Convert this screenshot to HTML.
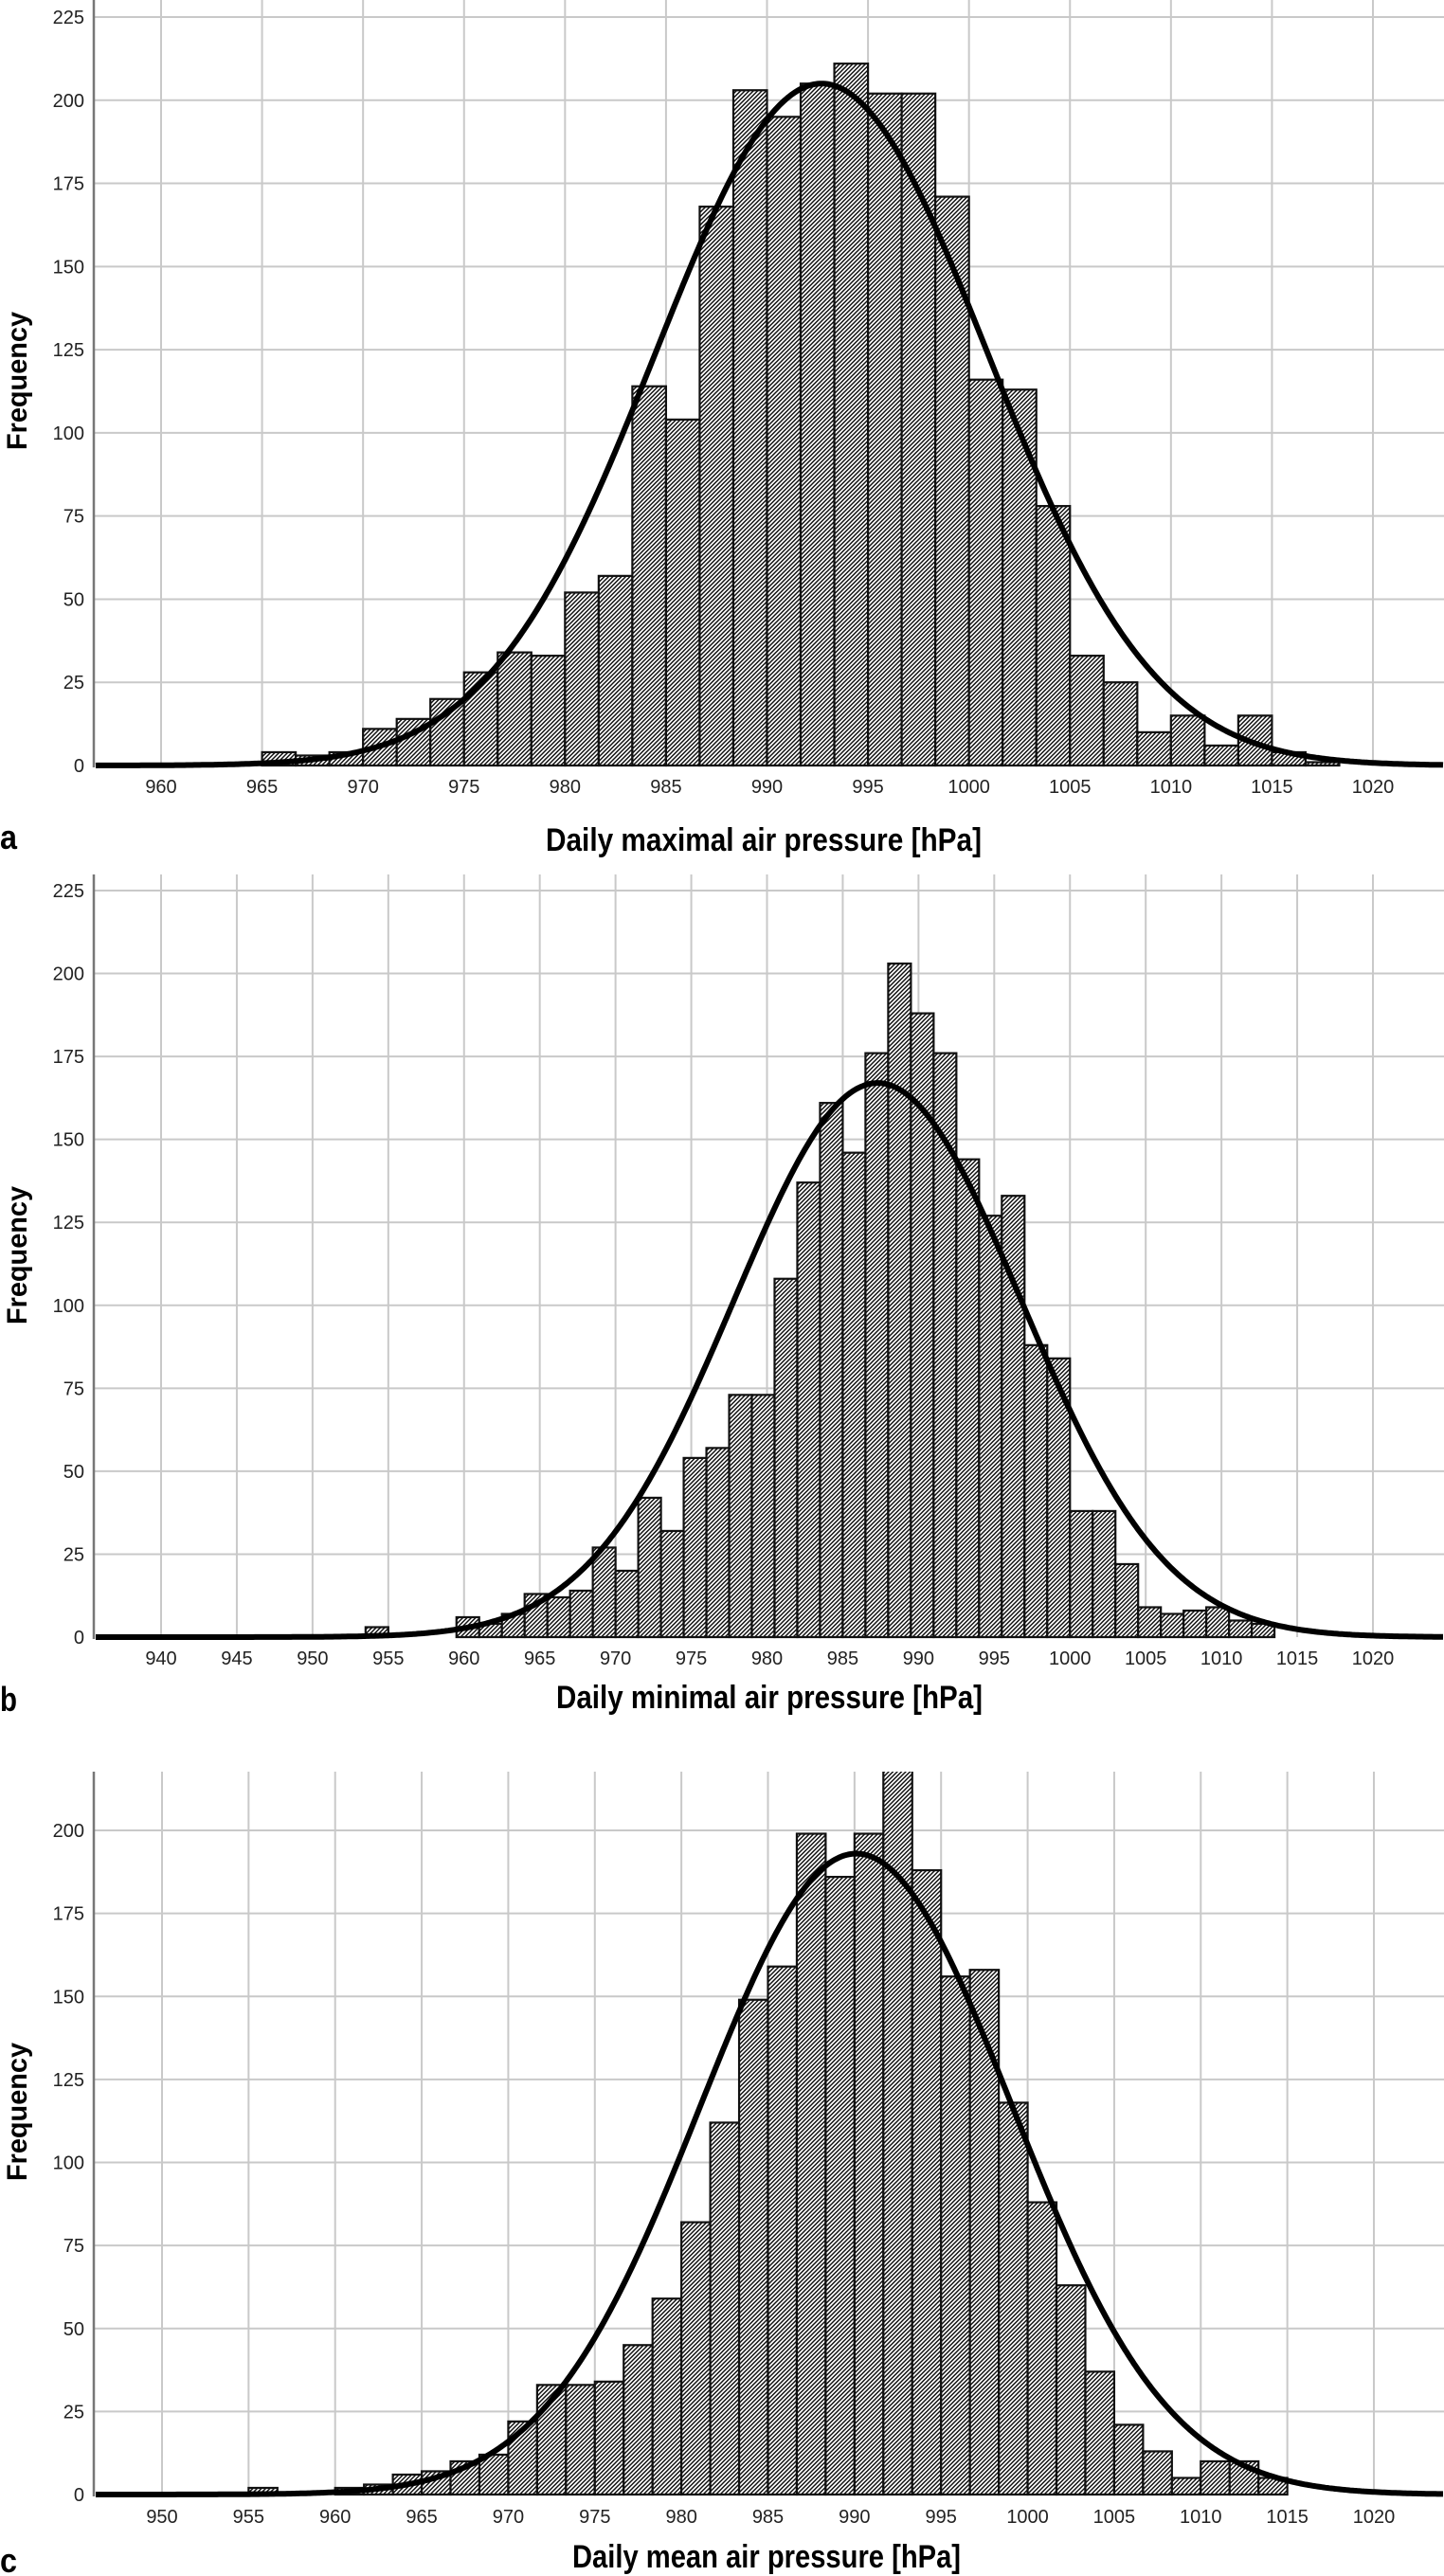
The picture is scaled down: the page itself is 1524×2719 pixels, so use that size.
<!DOCTYPE html>
<html><head><meta charset="utf-8"><title>Air pressure histograms</title>
<style>
html,body{margin:0;padding:0;background:#fff;}
svg{display:block;}
text{font-family:"Liberation Sans",sans-serif;}
</style></head>
<body>
<svg id="fig" width="1524" height="2719" viewBox="0 0 1524 2719" xmlns="http://www.w3.org/2000/svg">
<defs>
<pattern id="hatch" patternUnits="userSpaceOnUse" width="4.5" height="4.5">
<rect width="4.5" height="4.5" fill="#fff"/>
<path d="M-1,5.5 L5.5,-1 M-3.25,3.25 L3.25,-3.25 M1.25,7.75 L7.75,1.25" stroke="#111" stroke-width="1.5"/>
</pattern>
</defs>
</svg>
<script>
// ---- Chart a: Daily maximal air pressure ----
const aBinStart = 965;
const aBinWidth = 5/3;
const aCounts = [4,3,4,11,14,20,28,34,33,52,57,114,104,168,203,195,205,211,202,202,171,116,113,78,33,25,10,15,6,15,4,1];
const aXTicks = [960,965,970,975,980,985,990,995,1000,1005,1010,1015,1020];
const aYTicks = [0,25,50,75,100,125,150,175,200,225];
const aFitMean = [992.7];
const aFitSd = [8.2];
const aFitPeak = [205];

// ---- Chart b: Daily minimal air pressure ----
const bBinStart = 953.5;
const bBinWidth = 1.5;
const bCounts = [3,0,0,0,6,4,7,13,12,14,27,20,42,32,54,57,73,73,108,137,161,146,176,203,188,176,144,127,133,88,84,38,38,22,9,7,8,9,5,4];
const bXTicks = [940,945,950,955,960,965,970,975,980,985,990,995,1000,1005,1010,1015,1020];
const bYTicks = [0,25,50,75,100,125,150,175,200,225];
const bFitMean = [987.3];
const bFitSd = [9.5];
const bFitPeak = [167];

// ---- Chart c: Daily mean air pressure ----
const cBinStart = 955;
const cBinWidth = 5/3;
const cCounts = [2,0,0,2,3,6,7,10,12,22,33,33,34,45,59,82,112,149,159,199,186,199,220,188,156,158,118,88,63,37,21,13,5,10,10,5];
const cXTicks = [950,955,960,965,970,975,980,985,990,995,1000,1005,1010,1015,1020];
const cYTicks = [0,25,50,75,100,125,150,175,200];
const cFitMean = [990.1];
const cFitSd = [9.0];
const cFitPeak = [193];

const NS = "http://www.w3.org/2000/svg";
const svg = document.getElementById('fig');
function mk(tag, attrs, parent){
  const e = document.createElementNS(NS, tag);
  for (const k in attrs) e.setAttribute(k, attrs[k]);
  (parent||svg).appendChild(e);
  return e;
}

function drawChart(cfg){
  const g = mk('g', {});
  
  
  const L = 99, R = 1524;
  const xScale = (cfg.x1px - cfg.x0px) / (cfg.x1v - cfg.x0v);
  const X = v => cfg.x0px + (v - cfg.x0v) * xScale;
  const yScale = (cfg.y0px - cfg.ytopTickPx) / cfg.ytopTickVal;
  const Y = v => cfg.y0px - v * yScale;
  const clipId = 'clip-' + cfg.id;
  const cp = mk('clipPath', {id: clipId}, g);
  mk('rect', {x: L, y: cfg.top, width: R - L, height: cfg.y0px - cfg.top + 5}, cp);

  cfg.yTicks.forEach(t => {
    if (t === 0) return;
    const ln = mk('line', {x1: L, x2: R, y1: Y(t), y2: Y(t), stroke: '#c9c9c9', 'stroke-width': 2}, g);
    
    
  });
  cfg.xTicks.forEach(t => {
    const ln = mk('line', {x1: X(t), x2: X(t), y1: cfg.top, y2: cfg.y0px, stroke: '#c9c9c9', 'stroke-width': 2}, g);
    
    
  });

  const bars = mk('g', {'clip-path': 'url(#' + clipId + ')'}, g);
  
  
  cfg.counts.forEach((c, i) => {
    if (c <= 0) return;
    const x0 = X(cfg.binStart + i * cfg.binWidth), x1 = X(cfg.binStart + (i + 1) * cfg.binWidth);
    const r = mk('rect', {x: x0, y: Y(c), width: x1 - x0, height: cfg.y0px - Y(c), fill: 'url(#hatch)', stroke: '#111', 'stroke-width': 2.2}, bars);
    
    
  });

  const ax = mk('line', {x1: L, x2: L, y1: cfg.top, y2: cfg.y0px + 2, stroke: '#777', 'stroke-width': 2.5}, g);
  
  

  let d = '';
  for (let px = L + 2; px <= R; px += 2) {
    const v = cfg.x0v + (px - cfg.x0px) / xScale;
    const z = (v - cfg.mean[0]) / cfg.sd[0];
    const f = cfg.peak[0] * Math.exp(-0.5 * z * z);
    d += (d ? 'L' : 'M') + px.toFixed(1) + ',' + Y(f).toFixed(1);
  }
  const cv = mk('path', {d: d, fill: 'none', stroke: '#000', 'stroke-width': 6, 'stroke-linejoin': 'round', 'clip-path': 'url(#' + clipId + ')'}, g);
  
  

  cfg.yTicks.forEach(t => {
    const tx = mk('text', {x: 89, y: Y(t) + 7, 'text-anchor': 'end', 'font-size': 20, fill: '#222'}, g);
    tx.textContent = t;
    
    
  });
  cfg.xTicks.forEach(t => {
    const tx = mk('text', {x: X(t), y: cfg.labelY + 7, 'text-anchor': 'middle', 'font-size': 20, fill: '#222'}, g);
    tx.textContent = t;
    
    
  });

  const yt = mk('text', {x: 0, y: 0, 'text-anchor': 'middle', 'font-size': 30, 'font-weight': 'bold', textLength: 146, lengthAdjust: 'spacingAndGlyphs', transform: 'translate(28,' + cfg.freqY + ') rotate(-90)'}, g);
  yt.textContent = 'Frequency';
  
  

  const xt = mk('text', {x: cfg.titleX, y: cfg.titleY, 'font-size': 34, 'font-weight': 'bold', textLength: cfg.titleW, lengthAdjust: 'spacingAndGlyphs'}, g);
  xt.textContent = cfg.title;
  
  

  const pl = mk('text', {x: 0, y: cfg.letterY, 'font-size': 36, 'font-weight': 'bold', textLength: 18, lengthAdjust: 'spacingAndGlyphs'}, g);
  pl.textContent = cfg.id;
  
  
}

drawChart({id:'a', binStart:aBinStart, binWidth:aBinWidth, counts:aCounts, xTicks:aXTicks, yTicks:aYTicks,
  mean:aFitMean, sd:aFitSd, peak:aFitPeak,
  x0v:960, x0px:170, x1v:1020, x1px:1449, y0px:808, ytopTickVal:225, ytopTickPx:18, top:0,
  labelY:830, freqY:402, title:'Daily maximal air pressure [hPa]', titleX:576, titleY:898, titleW:460, letterY:896});

drawChart({id:'b', binStart:bBinStart, binWidth:bBinWidth, counts:bCounts, xTicks:bXTicks, yTicks:bYTicks,
  mean:bFitMean, sd:bFitSd, peak:bFitPeak,
  x0v:940, x0px:170, x1v:1020, x1px:1449, y0px:1728, ytopTickVal:225, ytopTickPx:940, top:923,
  labelY:1750, freqY:1325, title:'Daily minimal air pressure [hPa]', titleX:587, titleY:1803, titleW:450, letterY:1806});

drawChart({id:'c', binStart:cBinStart, binWidth:cBinWidth, counts:cCounts, xTicks:cXTicks, yTicks:cYTicks,
  mean:cFitMean, sd:cFitSd, peak:cFitPeak,
  x0v:950, x0px:171, x1v:1020, x1px:1450, y0px:2633, ytopTickVal:200, ytopTickPx:1932, top:1870,
  labelY:2656, freqY:2229, title:'Daily mean air pressure [hPa]', titleX:604, titleY:2710, titleW:410, letterY:2715});
</script>
</body></html>
